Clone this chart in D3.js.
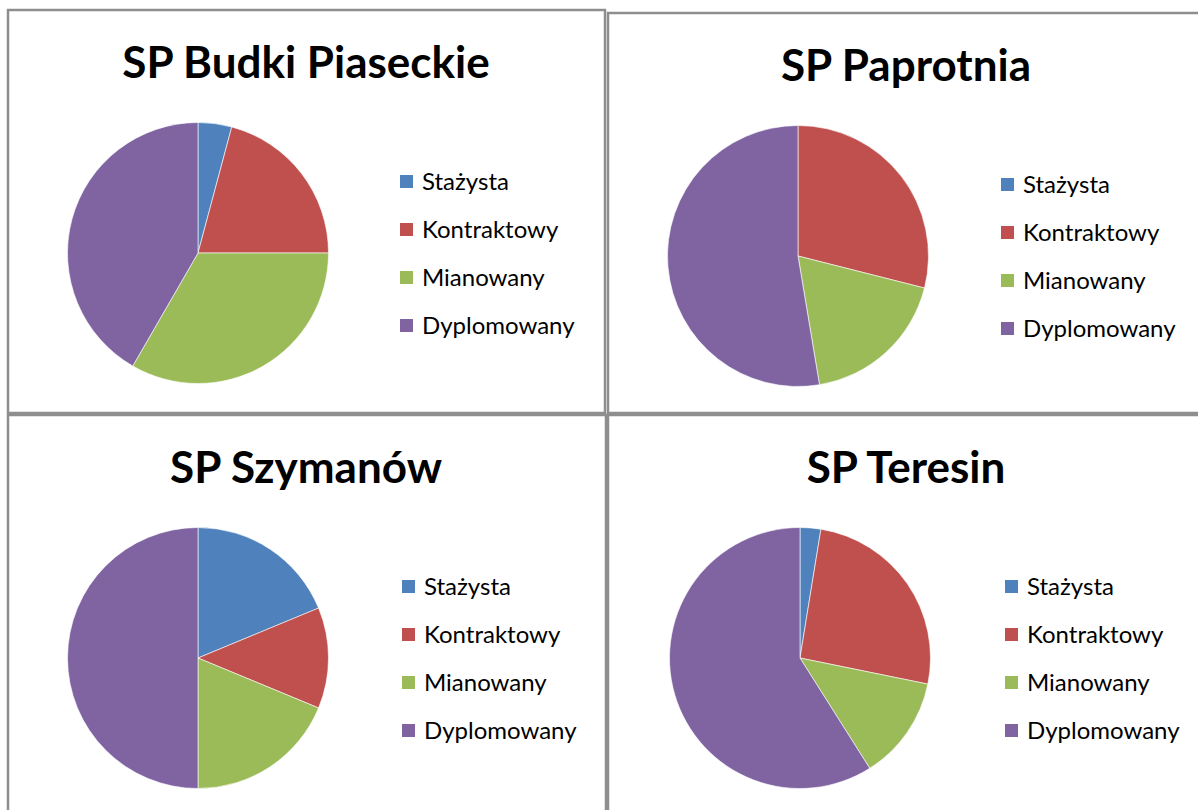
<!DOCTYPE html>
<html>
<head>
<meta charset="utf-8">
<script src="https://cdn.jsdelivr.net/npm/d3@7"></script>
<style>
  body { margin: 0; background: #fff; }
  svg { display: block; }
</style>
</head>
<body>
<div id="chart"></div>
<script>
// data
var schools = ["SP Budki Piaseckie", "SP Paprotnia", "SP Szymanów", "SP Teresin"];
var categories = ["Stażysta", "Kontraktowy", "Mianowany", "Dyplomowany"];
var budki = [1, 5, 8, 10];
var paprotnia = [0, 11, 7, 20];
var szymanow = [3, 2, 3, 8];
var teresin = [1, 10, 5, 23];
var seriesValues = [budki, paprotnia, szymanow, teresin];

var colors = ["#4F81BD", "#C0504D", "#9BBB59", "#8064A2"];

var width = 1198, height = 810;

var svg = d3.select("#chart")
  .append("svg")
  .attr("width", width)
  .attr("height", height);

// panel frames (one per school)
var panels = [
  {x: 8, y: 10, w: 597, h: 403, px: 190, lx: 392},
  {x: 608, y: 13, w: 600, h: 400, px: 190, lx: 393},
  {x: 8, y: 415, w: 598, h: 400, px: 190, lx: 394},
  {x: 608, y: 415, w: 600, h: 400, px: 192, lx: 397}
];

var color = d3.scaleOrdinal().domain(categories).range(colors);

var pie = d3.pie().sort(null).value(function(d) { return d.value; });
var arc = d3.arc().innerRadius(0).outerRadius(130.5);

// legend rows
var legendY = d3.scalePoint().domain(categories).range([0, 144]);

schools.forEach(function(name, i) {
  var p = panels[i];
  var g = svg.append("g")
    .attr("transform", "translate(" + p.x + "," + p.y + ")");

  g.append("rect")
    .attr("width", p.w)
    .attr("height", p.h)
    .attr("fill", "#fff")
    .attr("stroke", "#8e8e8e")
    .attr("stroke-width", 2.5);

  g.append("text")
    .attr("x", 298)
    .attr("y", 68)
    .attr("text-anchor", "middle")
    .attr("font-family", "Lato, 'Open Sans', sans-serif")
    .attr("font-weight", "bold")
    .attr("font-size", "44px")
    .attr("fill", "#000")
    .text(name);

  var data = categories.map(function(c, j) {
    return {cat: c, value: seriesValues[i][j]};
  });

  var pg = g.append("g").attr("transform", "translate(" + p.px + ",243)");
  pg.selectAll("path")
    .data(pie(data))
    .enter()
    .append("path")
    .attr("d", arc)
    .attr("fill", function(d) { return color(d.data.cat); })
    .attr("stroke", "#fff")
    .attr("stroke-width", 0.6);

  var lg = g.append("g").attr("transform", "translate(" + p.lx + ",172)");
  var item = lg.selectAll("g")
    .data(categories)
    .enter()
    .append("g")
    .attr("transform", function(d) { return "translate(0," + legendY(d) + ")"; });

  item.append("rect")
    .attr("x", 0)
    .attr("y", -7)
    .attr("width", 13)
    .attr("height", 13)
    .attr("fill", function(d) { return color(d); });

  item.append("text")
    .attr("x", 22)
    .attr("y", 8)
    .attr("font-family", "Lato, 'Open Sans', sans-serif")
    .attr("font-size", "24px")
    .attr("fill", "#000")
    .text(function(d) { return d; });
});
</script>
</body>
</html>
